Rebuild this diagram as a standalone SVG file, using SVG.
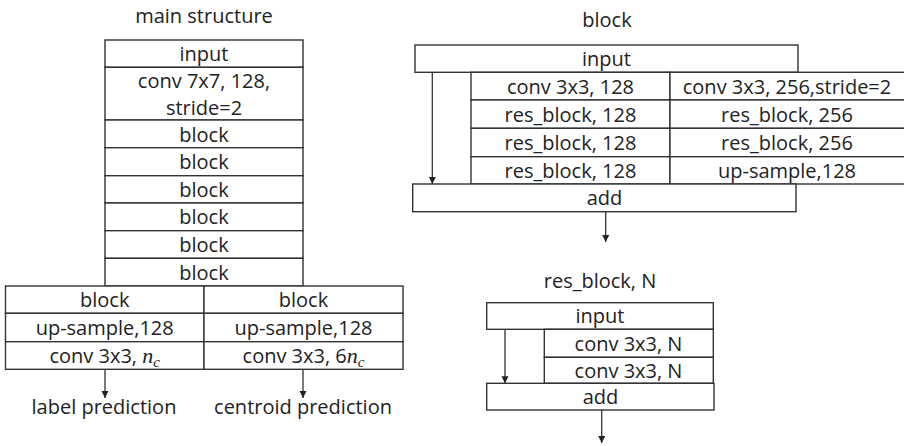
<svg xmlns="http://www.w3.org/2000/svg" width="904" height="446" viewBox="0 0 904 446">
<defs>
<style>
rect.c { fill: #fff; stroke: #333; stroke-width: 1.4; }
text { font-family: "Open Sans", "Liberation Sans", sans-serif; font-size: 20px; fill: #222; text-anchor: middle; }
.m { font-family: "Liberation Serif", "DejaVu Serif", serif; font-style: italic; font-size: 22px; }
.s { font-family: "Liberation Serif", "DejaVu Serif", serif; font-style: italic; font-size: 15px; }
.conn line { stroke: #333; stroke-width: 1.3; fill: none; }
</style>
<marker id="ah" markerUnits="userSpaceOnUse" markerWidth="8" markerHeight="8" refX="7" refY="3.5" orient="auto">
<path d="M0,0 L7,3.5 L0,7 z" fill="#222"/>
</marker>
</defs>
<rect x="0" y="0" width="904" height="446" style="fill:#fff;stroke:none"/>

<!-- main structure -->
<g id="title-main"><text x="204" y="23">main structure</text></g>
<g id="m-input"><rect class="c" x="105" y="40" width="198" height="27.3"/><text x="204" y="61">input</text></g>
<g id="m-conv7"><rect class="c" x="105" y="67.3" width="198" height="52.7"/><text x="204" y="87.5">conv 7x7, 128,</text><text x="204" y="114.5">stride=2</text></g>
<g id="m-block1"><rect class="c" x="105" y="120" width="198" height="27.7"/><text x="204" y="141.5">block</text></g>
<g id="m-block2"><rect class="c" x="105" y="147.7" width="198" height="28"/><text x="204" y="169">block</text></g>
<g id="m-block3"><rect class="c" x="105" y="175.7" width="198" height="27.3"/><text x="204" y="196.5">block</text></g>
<g id="m-block4"><rect class="c" x="105" y="203" width="198" height="27.7"/><text x="204" y="224">block</text></g>
<g id="m-block5"><rect class="c" x="105" y="230.7" width="198" height="27.6"/><text x="204" y="251.5">block</text></g>
<g id="m-block6"><rect class="c" x="105" y="258.3" width="198" height="27.7"/><text x="204" y="279.5">block</text></g>

<g id="l-block"><rect class="c" x="5.5" y="286" width="198.5" height="27.3"/><text x="104.7" y="307">block</text></g>
<g id="l-up"><rect class="c" x="5.5" y="313.3" width="198.5" height="28.4"/><text x="104.7" y="335">up-sample,128</text></g>
<g id="l-conv"><rect class="c" x="5.5" y="341.7" width="198.5" height="27.6"/><text x="104.7" y="363">conv 3x3, <tspan class="m">n</tspan><tspan class="s" dy="4">c</tspan></text></g>
<g id="r-block"><rect class="c" x="204" y="286" width="199" height="27.3"/><text x="303.5" y="307">block</text></g>
<g id="r-up"><rect class="c" x="204" y="313.3" width="199" height="28.4"/><text x="303.5" y="335">up-sample,128</text></g>
<g id="r-conv"><rect class="c" x="204" y="341.7" width="199" height="27.6"/><text x="303.5" y="363">conv 3x3, 6<tspan class="m">n</tspan><tspan class="s" dy="4">c</tspan></text></g>
<g id="label-pred"><text x="104" y="414">label prediction</text></g>
<g id="centroid-pred"><text x="303" y="414">centroid prediction</text></g>

<!-- block -->
<g id="title-block"><text x="607" y="27">block</text></g>
<g id="b-input"><rect class="c" x="415" y="45" width="383" height="27.3"/><text x="606.5" y="66">input</text></g>
<g id="b-c1"><rect class="c" x="471" y="72.3" width="199" height="27.7"/><text x="570.5" y="93.5">conv 3x3, 128</text></g>
<g id="b-c2"><rect class="c" x="471" y="100" width="199" height="28.3"/><text x="570.5" y="121.5">res_block, 128</text></g>
<g id="b-c3"><rect class="c" x="471" y="128.3" width="199" height="28.4"/><text x="570.5" y="150">res_block, 128</text></g>
<g id="b-c4"><rect class="c" x="471" y="156.7" width="199" height="27.3"/><text x="570.5" y="177.5">res_block, 128</text></g>
<g id="b-d1"><rect class="c" x="670" y="72.3" width="240" height="27.7"/><text x="787" y="93.5">conv 3x3, 256,stride=2</text></g>
<g id="b-d2"><rect class="c" x="670" y="100" width="240" height="28.3"/><text x="787" y="121.5">res_block, 256</text></g>
<g id="b-d3"><rect class="c" x="670" y="128.3" width="240" height="28.4"/><text x="787" y="150">res_block, 256</text></g>
<g id="b-d4"><rect class="c" x="670" y="156.7" width="240" height="27.3"/><text x="787" y="177.5">up-sample,128</text></g>
<g id="b-add"><rect class="c" x="412.7" y="184" width="383.3" height="27.7"/><text x="604.5" y="205">add</text></g>

<!-- res_block -->
<g id="title-res"><text x="600" y="288">res_block, N</text></g>
<g id="r-input"><rect class="c" x="486.7" y="302.7" width="226.6" height="26.6"/><text x="600" y="323">input</text></g>
<g id="r-c1"><rect class="c" x="544.3" y="329.3" width="169" height="28"/><text x="628.5" y="350.5">conv 3x3, N</text></g>
<g id="r-c2"><rect class="c" x="544.3" y="357.3" width="169" height="26"/><text x="628.5" y="377.5">conv 3x3, N</text></g>
<g id="r-add"><rect class="c" x="486.7" y="383.3" width="227.3" height="26.7"/><text x="600.5" y="404">add</text></g>

<g id="connectors" class="conn">
<line x1="105" y1="369.3" x2="105" y2="398" marker-end="url(#ah)"/>
<line x1="303" y1="369.3" x2="303" y2="398" marker-end="url(#ah)"/>
<line x1="432.3" y1="72.3" x2="432.3" y2="184" marker-end="url(#ah)"/>
<line x1="605.7" y1="211.7" x2="605.7" y2="242" marker-end="url(#ah)"/>
<line x1="505" y1="329.3" x2="505" y2="383.3" marker-end="url(#ah)"/>
<line x1="601.7" y1="410" x2="601.7" y2="443" marker-end="url(#ah)"/>
</g>
</svg>
